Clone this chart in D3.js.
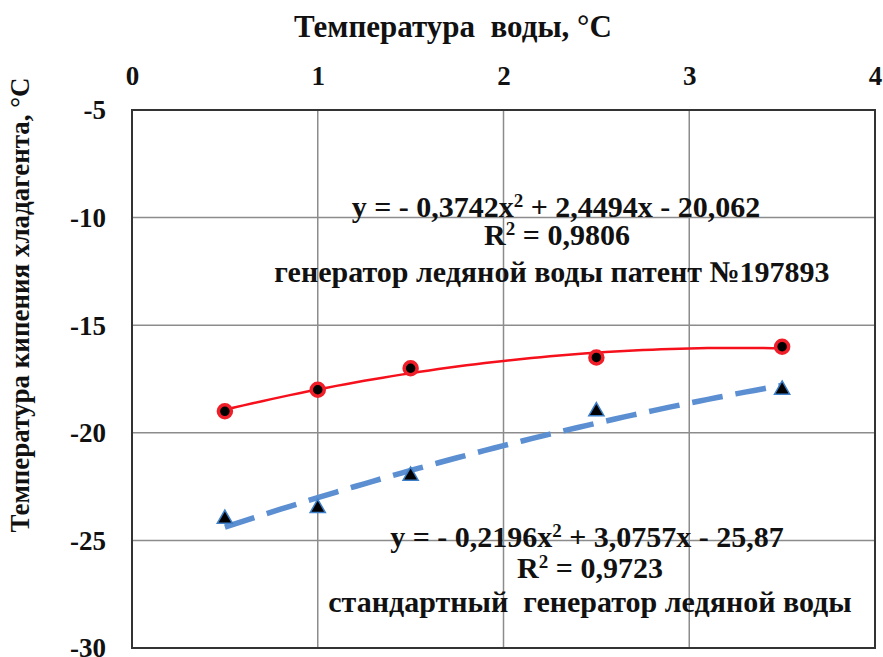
<!DOCTYPE html>
<html>
<head>
<meta charset="utf-8">
<script src="https://cdn.jsdelivr.net/npm/d3@7"></script>
<style>
  body { margin: 0; background: #fff; }
  text { font-family: "Liberation Serif", "DejaVu Serif", serif; font-weight: bold; fill: #111; }
</style>
</head>
<body>
<svg id="chart" width="883" height="657"></svg>
<script>
// data
const xTicks = [0, 1, 2, 3, 4];
const yTicks = [-5, -10, -15, -20, -25, -30];

const patentX = [0.5, 1, 1.5, 2.5, 3.5];
const patentY = [-19, -18, -17, -16.5, -16];

const standardX = [0.5, 1, 1.5, 2.5, 3.5];
const standardY = [-24, -23.5, -22, -19, -18];

// trendline coefficients as printed on the chart (a, b, c for ax^2 + bx + c)
const patentFit = [-0.3742, 2.4494, -20.062];
const standardFit = [-0.2196, 3.0757, -25.87];

const xTitle = 'Температура  воды, °C';
const yTitle = 'Температура кипения хладагента, °C';

const svg = d3.select('svg#chart');
const pLeft = 132, pTop = 110, pRight = 875, pBottom = 648;

const x = d3.scaleLinear().domain([0, 4]).range([pLeft, pRight]);
const y = d3.scaleLinear().domain([-30, -5]).range([pBottom, pTop]);

// grid
svg.append('g')
  .selectAll('line')
  .data([1, 2, 3])
  .join('line')
  .attr('x1', d => x(d)).attr('x2', d => x(d))
  .attr('y1', pTop).attr('y2', pBottom)
  .attr('stroke', '#8c8c8c').attr('stroke-width', 1.5);

svg.append('g')
  .selectAll('line')
  .data([-10, -15, -20, -25])
  .join('line')
  .attr('x1', pLeft).attr('x2', pRight)
  .attr('y1', d => y(d)).attr('y2', d => y(d))
  .attr('stroke', '#8c8c8c').attr('stroke-width', 1.5);

// plot frame
svg.append('rect')
  .attr('x', pLeft).attr('y', pTop)
  .attr('width', pRight - pLeft).attr('height', pBottom - pTop)
  .attr('fill', 'none').attr('stroke', '#333').attr('stroke-width', 2);

// top x axis labels
svg.append('g')
  .call(d3.axisTop(x).tickValues(xTicks).tickSize(0).tickPadding(0).tickFormat(d => String(d)))
  .attr('transform', 'translate(0,' + (pTop - 25) + ')')
  .call(g => g.select('.domain').remove())
  .selectAll('text')
  .attr('dy', 0)
  .attr('font-size', '27px')
  .attr('font-family', '"Liberation Serif", serif')
  .attr('font-weight', 'bold')
  .attr('fill', '#111');

// left y axis labels
svg.append('g')
  .call(d3.axisLeft(y).tickValues(yTicks).tickSize(0).tickPadding(0).tickFormat(d => String(d)))
  .attr('transform', 'translate(' + (pLeft - 26) + ',0)')
  .call(g => g.select('.domain').remove())
  .selectAll('text')
  .attr('dy', '0.33em')
  .attr('font-size', '27px')
  .attr('font-family', '"Liberation Serif", serif')
  .attr('font-weight', 'bold')
  .attr('fill', '#111');

// axis titles
svg.append('text')
  .attr('x', 453).attr('y', 37)
  .attr('text-anchor', 'middle')
  .attr('font-size', '31px')
  .style('white-space', 'pre')
  .text(xTitle);

svg.append('text')
  .attr('transform', 'translate(29,305) rotate(-90)')
  .attr('text-anchor', 'middle')
  .attr('font-size', '27px')
  .text(yTitle);

// trendlines
const curve = (c, x0, x1) => d3.range(0, 61).map(i => {
  const t = x0 + (x1 - x0) * i / 60;
  return [t, c[0] * t * t + c[1] * t + c[2]];
});
const line = d3.line().x(d => x(d[0])).y(d => y(d[1]));

svg.append('path')
  .attr('d', line(curve(patentFit, d3.min(patentX), d3.max(patentX))))
  .attr('fill', 'none').attr('stroke', '#f5101c').attr('stroke-width', 2.5);

svg.append('path')
  .attr('d', line(curve(standardFit, d3.min(standardX), d3.max(standardX))))
  .attr('fill', 'none').attr('stroke', '#5b8fd2').attr('stroke-width', 5.5)
  .attr('stroke-dasharray', '31,13');

// markers
svg.append('g')
  .selectAll('circle')
  .data(patentX.map((d, i) => [d, patentY[i]]))
  .join('circle')
  .attr('cx', d => x(d[0])).attr('cy', d => y(d[1]))
  .attr('r', 6.5)
  .attr('fill', '#000').attr('stroke', '#f01e28').attr('stroke-width', 3.5);

const tri = d3.symbol().type(d3.symbolTriangle).size(100);
svg.append('g')
  .selectAll('path')
  .data(standardX.map((d, i) => [d, standardY[i]]))
  .join('path')
  .attr('d', tri)
  .attr('transform', d => 'translate(' + x(d[0]) + ',' + y(d[1]) + ')')
  .attr('fill', '#000').attr('stroke', '#3d7fc8').attr('stroke-width', 1.5);

// annotations, {sup: '2'} is drawn as a raised small digit
function label(tx, ty, size, parts) {
  const t = svg.append('text')
    .attr('x', tx).attr('y', ty)
    .attr('text-anchor', 'middle')
    .attr('font-size', size)
    .style('white-space', 'pre');
  let back = 0;
  parts.forEach(p => {
    if (typeof p === 'string') {
      t.append('tspan').attr('dy', back).text(p);
      back = 0;
    } else {
      t.append('tspan').attr('dy', -10).attr('font-size', '19px').text(p.sup);
      back = 10;
    }
  });
}

label(556, 217, '30px', ['y = - 0,3742x', {sup: '2'}, ' + 2,4494x - 20,062']);
label(557, 245, '30px', ['R', {sup: '2'}, ' = 0,9806']);
label(552, 282, '30px', ['генератор ледяной воды патент №197893']);

label(587, 547, '30px', ['y = - 0,2196x', {sup: '2'}, ' + 3,0757x - 25,87']);
label(590, 578, '30px', ['R', {sup: '2'}, ' = 0,9723']);
label(590, 612, '30px', ['стандартный  генератор ледяной воды']);
</script>
</body>
</html>
